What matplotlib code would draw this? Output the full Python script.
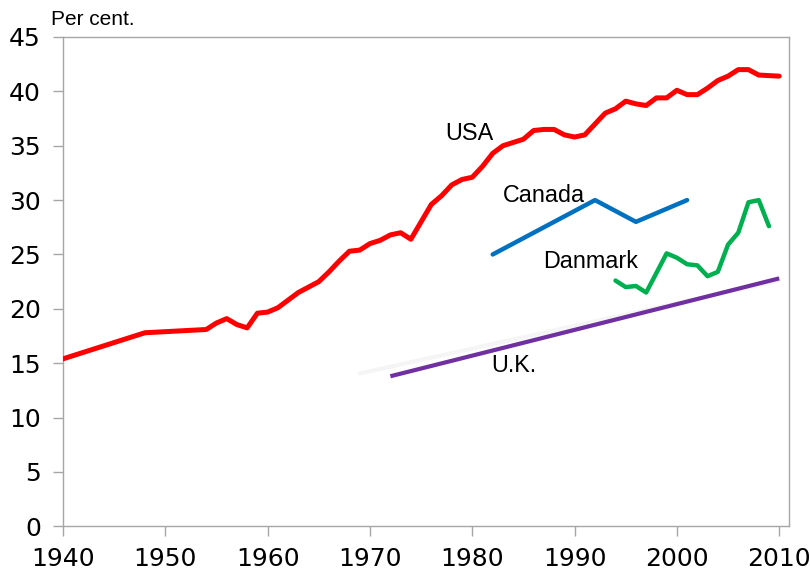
import matplotlib
matplotlib.use("Agg")
import matplotlib.pyplot as plt

# ---- data ----
usa_years = [1940, 1948] + list(range(1954, 2011))
usa_values = [15.4, 17.8,
              18.1, 18.7, 19.1, 18.55, 18.25, 19.6, 19.7, 20.1, 20.8, 21.5,
              22.0, 22.5, 23.4, 24.4, 25.3, 25.4, 26.0, 26.3, 26.8, 27.0,
              26.4, 28.0, 29.6, 30.4, 31.4, 31.9, 32.1, 33.1, 34.3, 35.0,
              35.3, 35.6, 36.4, 36.5, 36.5, 36.0, 35.8, 36.0, 37.0, 38.0,
              38.4, 39.1, 38.85, 38.7, 39.4, 39.4, 40.1, 39.7, 39.7, 40.3,
              41.0, 41.4, 42.0, 42.0, 41.5, 41.45, 41.4]

canada_years = [1982, 1992, 1996, 2001]
canada_values = [25.0, 30.0, 28.0, 30.0]

dk_years = [1994, 1995, 1996, 1997, 1999, 2000, 2001, 2002, 2003, 2004,
            2005, 2006, 2007, 2008, 2009]
dk_values = [22.6, 22.0, 22.1, 21.5, 25.1, 24.7, 24.1, 24.0, 23.0, 23.4,
             25.9, 27.0, 29.8, 30.0, 27.6]

uk_years = [1972, 2010]
uk_values = [13.8, 22.8]

uk_faint_years = [1969, 2010]
uk_faint_values = [14.05, 22.6]

x_ticks = [1940, 1950, 1960, 1970, 1980, 1990, 2000, 2010]
y_ticks = [0, 5, 10, 15, 20, 25, 30, 35, 40, 45]

labels = ["USA", "Canada", "Danmark", "U.K."]
label_pos = [(1977.4, 35.5), (1983.0, 29.8), (1986.95, 23.75), (1981.9, 14.15)]

# ---- figure ----
fig = plt.figure(figsize=(8.1, 5.73), dpi=100)
ax = fig.add_axes([63/810, 1-526.3/573, (789-63)/810, (526.3-37)/573])

ax.plot(uk_faint_years, uk_faint_values, color="#f5f5f5", lw=3, solid_capstyle="round", zorder=1)
ax.plot(usa_years, usa_values, color="#FF0000", lw=3.6, solid_capstyle="round", zorder=3)
ax.plot(canada_years, canada_values, color="#0070C0", lw=3.2, solid_capstyle="round", zorder=3)
ax.plot(dk_years, dk_values, color="#00B050", lw=3.2, solid_capstyle="round", zorder=3)
ax.plot(uk_years, uk_values, color="#7030A0", lw=3.0, solid_capstyle="butt", zorder=2)

for txt, (x, y) in zip(labels, label_pos):
    ax.text(x, y, txt, fontsize=16.8, family="Liberation Sans", ha="left", va="baseline",
            color="black", zorder=4)

ax.set_xlim(1940, 2010.96)
ax.set_ylim(0, 45)
ax.set_xticks(x_ticks)
ax.set_yticks(y_ticks)
ax.set_xticklabels([str(v) for v in x_ticks], family="DejaVu Sans", fontsize=18)
ax.set_yticklabels([str(v) for v in y_ticks], family="DejaVu Sans", fontsize=18)

for s in ax.spines.values():
    s.set_color("#a6a6a6")
    s.set_linewidth(1.0)
ax.tick_params(axis="both", direction="out", color="#a6a6a6", length=7, width=1)
ax.tick_params(axis="y", pad=9)
ax.tick_params(axis="x", pad=8)

fig.text(51/810, 1-25/573, "Per cent.", fontsize=15, family="Liberation Sans",
         ha="left", va="baseline")

fig.savefig("out.png", dpi=100)
